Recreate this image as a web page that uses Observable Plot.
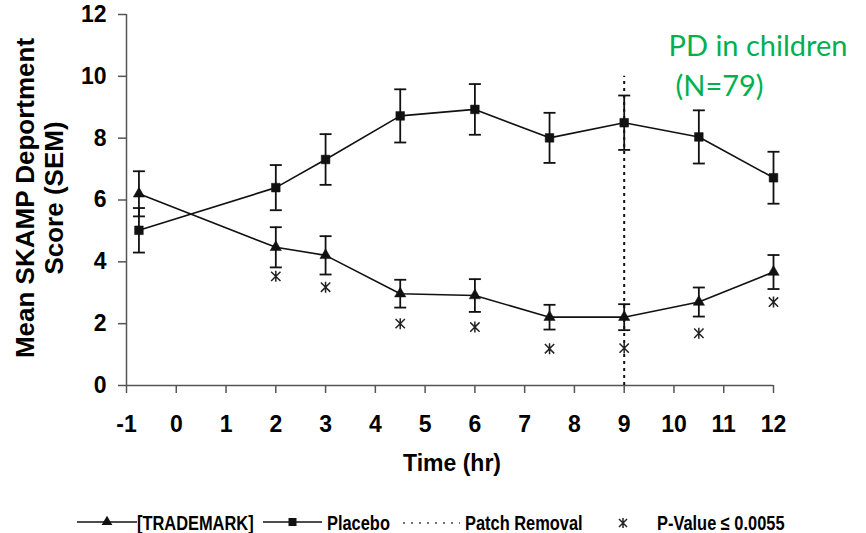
<!DOCTYPE html>
<html>
<head>
<meta charset="utf-8">
<script src="https://cdn.jsdelivr.net/npm/d3@7"></script>
<script src="https://cdn.jsdelivr.net/npm/@observablehq/plot@0.6"></script>
<style>
  body { margin: 0; background: white; }
  #wrap { width: 866px; position: relative; }
  #legend { position: relative; width: 866px; height: 33px;
    font-family: "Liberation Sans", Arial, sans-serif;
    font-weight: bold; font-size: 20px; color: #000; }
  #legend .it { position: absolute; top: 13px; line-height: 20px; white-space: nowrap;
    transform: scaleX(0.82); transform-origin: 0 50%; }
  #legend svg { position: absolute; top: 12px; }
</style>
</head>
<body>
<div id="wrap">
  <div id="chart"></div>
  <div id="legend"></div>
</div>
<script>
// ---- data ----
const times = [-0.75, 2, 3, 4.5, 6, 7.5, 9, 10.5, 12];
const trademarkMean = [6.2, 4.47, 4.21, 2.97, 2.91, 2.21, 2.21, 2.7, 3.67];
const trademarkSem  = [0.73, 0.65, 0.62, 0.45, 0.53, 0.40, 0.42, 0.47, 0.55];
const placeboMean   = [5.02, 6.4, 7.31, 8.72, 8.93, 8.01, 8.5, 8.04, 6.72];
const placeboSem    = [0.72, 0.73, 0.82, 0.86, 0.82, 0.81, 0.88, 0.86, 0.84];
const sigTimes   = [2, 3, 4.5, 6, 7.5, 9, 10.5, 12];
const sigMarkerY = [3.53, 3.18, 2.0, 1.89, 1.19, 1.21, 1.69, 2.7];
const patchRemovalTime = 9;
const patchLineTop = 10;
const xTicks = [-1, 0, 1, 2, 3, 4, 5, 6, 7, 8, 9, 10, 11, 12];
const yTicks = [0, 2, 4, 6, 8, 10, 12];
const seriesNames = ["[TRADEMARK]", "Placebo", "Patch Removal", "P-Value ≤ 0.0055"];
const annotationLines = ["PD in children", "(N=79)"];
const xLabel = "Time (hr)";
const yLabel = "Mean SKAMP Deportment\nScore (SEM)";

// ---- tables ----
const trademark = times.map((t, i) => ({t, mean: trademarkMean[i], sem: trademarkSem[i]}));
const placebo = times.map((t, i) => ({t, mean: placeboMean[i], sem: placeboSem[i]}));
const both = trademark.concat(placebo);
const caps = both.flatMap(d => [{t: d.t, y: d.mean + d.sem}, {t: d.t, y: d.mean - d.sem}]);
const sig = sigTimes.map((t, i) => ({t, y: sigMarkerY[i]}));

// custom symbols
const hcap = { draw(ctx, size) { const r = Math.sqrt(size / Math.PI); ctx.moveTo(-r, 0); ctx.lineTo(r, 0); } };
const star = { draw(ctx, size) {
  const r = Math.sqrt(size / Math.PI); const k = r * 0.85;
  ctx.moveTo(0, -r); ctx.lineTo(0, r);
  ctx.moveTo(-k, -k); ctx.lineTo(k, k);
  ctx.moveTo(k, -k); ctx.lineTo(-k, k);
} };

const ink = "#111";
const axisInk = "#555";

const chart = Plot.plot({
  width: 866, height: 500,
  marginLeft: 126, marginRight: 93, marginTop: 14, marginBottom: 115,
  style: { fontFamily: "'Liberation Sans', Arial, sans-serif", fontWeight: "bold", fontSize: "23px", color: "#000", background: "white", overflow: "visible" },
  x: { domain: [-1, 12] },
  y: { domain: [0, 12] },
  marks: [
    Plot.axisX({ ticks: xTicks, tickSize: 8, tickPadding: 22, tickFormat: d => String(d), label: null, stroke: axisInk, strokeWidth: 1.5 }),
    Plot.axisY({ ticks: yTicks, tickSize: 8, tickPadding: 12, tickFormat: d => String(d), label: null, stroke: axisInk, strokeWidth: 1.5 }),
    Plot.ruleY([0], { stroke: axisInk, strokeWidth: 1.5 }),
    Plot.ruleX([-1], { stroke: axisInk, strokeWidth: 1.5 }),
    // patch removal
    Plot.ruleX([patchRemovalTime], { y1: 0, y2: patchLineTop, stroke: ink, strokeWidth: 2, strokeDasharray: "3,4" }),
    // lines
    Plot.line(trademark, { x: "t", y: "mean", stroke: ink, strokeWidth: 1.6 }),
    Plot.line(placebo, { x: "t", y: "mean", stroke: ink, strokeWidth: 1.6 }),
    // error bars
    Plot.ruleX(both, { x: "t", y1: d => d.mean - d.sem, y2: d => d.mean + d.sem, stroke: ink, strokeWidth: 1.8 }),
    Plot.dot(caps, { x: "t", y: "y", symbol: hcap, r: 6, fill: "none", stroke: ink, strokeWidth: 1.8 }),
    // markers
    Plot.dot(trademark, { x: "t", y: "mean", symbol: "triangle", r: 4.2, fill: ink, stroke: ink, strokeWidth: 0.5 }),
    Plot.dot(placebo, { x: "t", y: "mean", symbol: "square", r: 4.9, fill: ink, stroke: ink, strokeWidth: 0.5 }),
    Plot.dot(sig, { x: "t", y: "y", symbol: star, r: 5.5, fill: "none", stroke: "#222", strokeWidth: 1.5 }),
    // labels
    Plot.text([yLabel], { frameAnchor: "left", textAnchor: "middle", lineAnchor: "middle", rotate: -90, dx: -87, dy: -2, fontSize: 26, lineHeight: 1.08, fontWeight: "bold", fill: "#000", text: d => d }),
    Plot.text([xLabel], { frameAnchor: "bottom", dy: 85, dx: 2, fontSize: 23, fontWeight: "bold", fill: "#000", text: d => d }),
    Plot.text([annotationLines[0]], { frameAnchor: "top-left", textAnchor: "start", lineAnchor: "bottom", dx: 542, dy: 41, fontSize: 29, fontWeight: "normal", fontFamily: "Lato, 'Open Sans', sans-serif", fill: "#00B050", text: d => d }),
    Plot.text([annotationLines[1]], { frameAnchor: "top-left", textAnchor: "start", lineAnchor: "bottom", dx: 549, dy: 81, fontSize: 29, fontWeight: "normal", fontFamily: "Lato, 'Open Sans', sans-serif", fill: "#00B050", text: d => d })
  ]
});
document.getElementById("chart").appendChild(chart);

// ---- legend ----
const legend = document.getElementById("legend");
const ns = "http://www.w3.org/2000/svg";
function swatch(left, w, drawFn) {
  const s = document.createElementNS(ns, "svg");
  s.setAttribute("width", w); s.setAttribute("height", 20);
  s.style.left = left + "px";
  drawFn(d3.select(s), w);
  legend.appendChild(s);
}
function label(left, text) {
  const sp = document.createElement("span");
  sp.className = "it"; sp.style.left = left + "px"; sp.textContent = text;
  legend.appendChild(sp);
}
swatch(77, 60, (g, w) => {
  g.append("line").attr("x1", 0).attr("x2", w).attr("y1", 10).attr("y2", 10).attr("stroke", ink).attr("stroke-width", 1.5);
  g.append("path").attr("transform", `translate(${w/2},10)`).attr("d", d3.symbol(d3.symbolTriangle, 50)()).attr("fill", ink);
});
label(137, seriesNames[0]);
swatch(263, 59, (g, w) => {
  g.append("line").attr("x1", 0).attr("x2", w).attr("y1", 10).attr("y2", 10).attr("stroke", ink).attr("stroke-width", 1.5);
  g.append("path").attr("transform", `translate(${w/2},10)`).attr("d", d3.symbol(d3.symbolSquare, 64)()).attr("fill", ink);
});
label(327, seriesNames[1]);
swatch(402, 58, (g, w) => {
  g.append("line").attr("x1", 1).attr("x2", w).attr("y1", 11).attr("y2", 11).attr("stroke", "#444").attr("stroke-width", 1.5).attr("stroke-dasharray", "2,6");
});
label(465, seriesNames[2]);
swatch(617, 12, (g, w) => {
  g.append("path").attr("transform", `translate(6,11)`).attr("d", "M0,-5L0,5M-4,-4L4,4M4,-4L-4,4").attr("stroke", "#222").attr("stroke-width", 1.5).attr("fill", "none");
});
label(657, seriesNames[3]);
</script>
</body>
</html>
